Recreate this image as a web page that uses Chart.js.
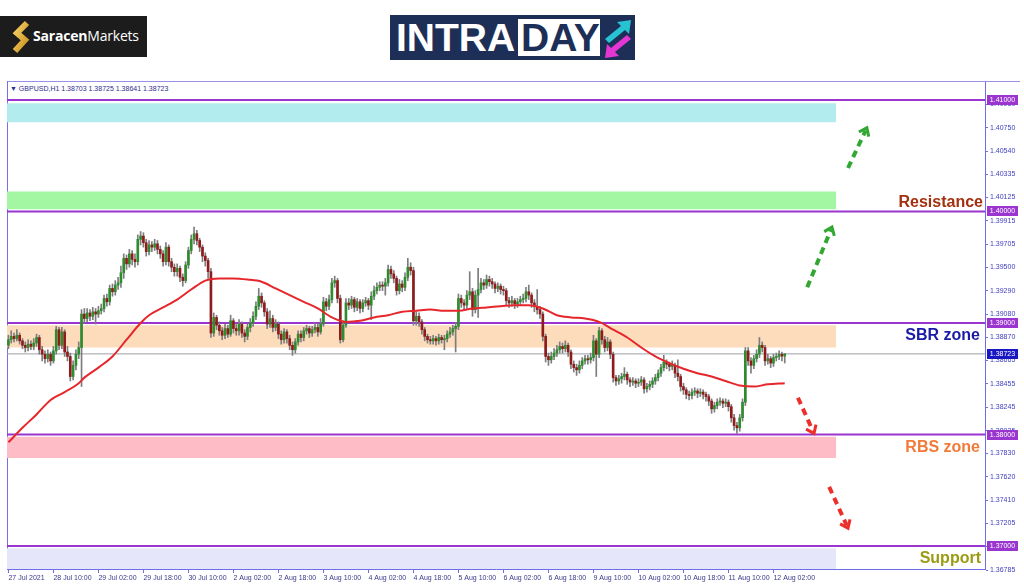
<!DOCTYPE html>
<html><head><meta charset="utf-8">
<script src="https://cdn.jsdelivr.net/npm/chart.js@4.4.0/dist/chart.umd.min.js"></script>
<style>
html,body{margin:0;padding:0;background:#fff;width:1024px;height:587px;overflow:hidden;font-family:"Liberation Sans",Arial,sans-serif;}
#cv{position:absolute;left:0;top:70px;}
.abs{position:absolute;white-space:nowrap;}
#sar{left:0;top:16px;width:147px;height:41px;background:#1c1c1c;}
#sar .t{position:absolute;left:33px;top:12px;font-family:"Open Sans","Liberation Sans",sans-serif;font-size:14px;color:#fff;line-height:16px;letter-spacing:-0.2px;}
#intra{left:390px;top:15px;width:245px;height:45px;background:#1e2f57;}
#intra .a{position:absolute;left:6px;top:2px;font-family:"Liberation Sans",Arial,sans-serif;font-weight:bold;font-size:39px;line-height:42px;color:#fff;}
#intra .b{position:absolute;left:128px;top:4px;width:82px;height:37px;background:#fff;}
#intra .b span{position:absolute;left:3px;top:-2px;font-weight:bold;font-size:39px;line-height:42px;color:#1e2f57;}
#frameL{left:7px;top:81px;width:0;height:488px;border-left:1px solid #7a6fe0;}
#frameT{left:7px;top:81px;width:1013px;height:0;border-top:1px solid #9a8fe8;}
#hdr{left:10px;top:85px;font-size:7px;line-height:8px;color:#2d2d8f;font-family:"Liberation Sans",Arial,sans-serif;}
.lbl{font-weight:bold;font-size:16px;line-height:18px;font-family:"Liberation Sans",Arial,sans-serif;text-align:right;}
</style></head><body>
<div id="sar" class="abs">
  <svg width="30" height="41" style="position:absolute;left:6px;top:0">
    <defs><linearGradient id="g" x1="0" y1="0" x2="1" y2="1"><stop offset="0" stop-color="#f7d26a"/><stop offset="1" stop-color="#c8901c"/></linearGradient></defs>
    <path d="M21 7 L11 17 L19 24 L9 35" fill="none" stroke="url(#g)" stroke-width="6" stroke-linejoin="miter"/>
  </svg>
  <div class="t"><b>Saracen</b>Markets</div>
</div>
<div id="intra" class="abs">
  <div class="a">INTRA</div>
  <div class="b"><span>DAY</span></div>
  <svg width="34" height="45" style="position:absolute;left:211px;top:0">
    <path d="M4 24 L20 11 L16 7 L30 5 L28 19 L24 15 L8 28 Z" fill="#27c3d3"/>
    <path d="M30 24 L14 37 L18 41 L4 43 L6 29 L10 33 L26 20 Z" fill="#e436d3"/>
  </svg>
</div>
<div id="frameT" class="abs"></div>
<div id="frameL" class="abs"></div>
<div id="hdr" class="abs"></div>
<canvas id="cv" width="1024" height="517"></canvas>
<div class="abs lbl" style="right:41px;top:193px;color:#a3300e;">Resistance</div>
<div class="abs lbl" style="right:44px;top:326px;color:#1a1aa8;">SBR zone</div>
<div class="abs lbl" style="right:44px;top:438px;color:#f27a38;">RBS zone</div>
<div class="abs lbl" style="right:43px;top:549px;color:#9b9b12;">Support</div>
<script>
// ---------------- DATA ----------------
const symbolName = "GBPUSD,H1";
const firstOpen = 1.3880;
const closes = [
1.3885,1.3888,1.3886,1.3889,1.3884,1.3880,1.3878,1.3881,1.3879,1.3882,
1.3887,1.3876,1.3872,1.3868,1.3872,1.3866,1.3875,1.3894,1.3880,1.3892,
1.3874,1.3870,1.3852,1.3862,1.3872,1.3878,1.3908,1.3904,1.3909,1.3906,
1.3910,1.3908,1.3911,1.3913,1.3922,1.3919,1.3931,1.3928,1.3934,1.3936,
1.3945,1.3958,1.3953,1.3962,1.3957,1.3955,1.3975,1.3978,1.3972,1.3964,
1.3970,1.3968,1.3971,1.3966,1.3962,1.3955,1.3968,1.3955,1.3950,1.3946,
1.3949,1.3941,1.3938,1.3952,1.3965,1.3975,1.3980,1.3974,1.3968,1.3960,
1.3956,1.3946,1.3891,1.3905,1.3898,1.3893,1.3889,1.3895,1.3890,1.3902,
1.3895,1.3893,1.3899,1.3891,1.3888,1.3896,1.3900,1.3906,1.3915,1.3924,
1.3918,1.3910,1.3899,1.3904,1.3896,1.3899,1.3890,1.3885,1.3892,1.3886,
1.3880,1.3876,1.3883,1.3890,1.3887,1.3893,1.3895,1.3891,1.3894,1.3896,
1.3892,1.3899,1.3919,1.3915,1.3921,1.3936,1.3938,1.3922,1.3885,1.3898,
1.3918,1.3916,1.3921,1.3914,1.3919,1.3913,1.3918,1.3920,1.3916,1.3924,
1.3929,1.3932,1.3934,1.3933,1.3936,1.3948,1.3944,1.3940,1.3929,1.3935,
1.3932,1.3941,1.3950,1.3947,1.3902,1.3906,1.3901,1.3894,1.3888,1.3885,
1.3884,1.3886,1.3884,1.3887,1.3885,1.3886,1.3890,1.3892,1.3895,1.3897,
1.3922,1.3918,1.3916,1.3925,1.3928,1.3912,1.3925,1.3930,1.3936,1.3934,
1.3939,1.3937,1.3935,1.3931,1.3933,1.3930,1.3929,1.3920,1.3918,1.3920,
1.3917,1.3919,1.3921,1.3922,1.3928,1.3925,1.3918,1.3915,1.3912,1.3908,
1.3888,1.3870,1.3867,1.3870,1.3873,1.3876,1.3879,1.3877,1.3880,1.3874,
1.3863,1.3860,1.3858,1.3862,1.3866,1.3868,1.3867,1.3869,1.3884,1.3872,
1.3893,1.3885,1.3878,1.3883,1.3872,1.3851,1.3848,1.3850,1.3852,1.3854,
1.3849,1.3847,1.3848,1.3846,1.3847,1.3849,1.3841,1.3843,1.3845,1.3848,
1.3851,1.3855,1.3860,1.3865,1.3863,1.3861,1.3862,1.3855,1.3852,1.3843,
1.3840,1.3836,1.3835,1.3838,1.3839,1.3837,1.3838,1.3836,1.3834,1.3830,
1.3823,1.3826,1.3829,1.3830,1.3828,1.3829,1.3825,1.3815,1.3808,1.3806,
1.3815,1.3829,1.3875,1.3866,1.3862,1.3868,1.3872,1.3880,1.3878,1.3866,
1.3868,1.3864,1.3869,1.3870,1.3872,1.38703,1.38723];
const highs = [
1.3889,1.3893,1.3891,1.3894,1.3891,1.3886,1.3883,1.3885,1.3884,1.3886,
1.3890,1.3889,1.3879,1.3875,1.3876,1.3874,1.3879,1.3897,1.3896,1.3896,
1.3894,1.3879,1.3873,1.3866,1.3876,1.3883,1.3912,1.3913,1.3913,1.3912,
1.3914,1.3913,1.3915,1.3917,1.3925,1.3926,1.3934,1.3935,1.3938,1.3941,
1.3951,1.3962,1.3961,1.3966,1.3965,1.3962,1.3979,1.3982,1.3981,1.3975,
1.3974,1.3973,1.3975,1.3974,1.3969,1.3965,1.3972,1.3970,1.3958,1.3953,
1.3953,1.3951,1.3944,1.3955,1.3968,1.3979,1.3986,1.3983,1.3976,1.3970,
1.3963,1.3958,1.3949,1.3909,1.3907,1.3901,1.3896,1.3899,1.3898,1.3907,
1.3904,1.3899,1.3903,1.3901,1.3894,1.3899,1.3904,1.3910,1.3919,1.3931,
1.3927,1.3920,1.3913,1.3911,1.3907,1.3903,1.3901,1.3893,1.3895,1.3894,
1.3889,1.3883,1.3886,1.3893,1.3893,1.3896,1.3898,1.3897,1.3897,1.3900,
1.3899,1.3904,1.3923,1.3922,1.3925,1.3940,1.3942,1.3940,1.3925,1.3902,
1.3922,1.3922,1.3924,1.3923,1.3922,1.3921,1.3921,1.3923,1.3922,1.3928,
1.3933,1.3936,1.3937,1.3937,1.3940,1.3952,1.3951,1.3947,1.3942,1.3939,
1.3938,1.3945,1.3958,1.3954,1.3950,1.3910,1.3909,1.3903,1.3896,1.3890,
1.3888,1.3889,1.3888,1.3890,1.3889,1.3889,1.3893,1.3896,1.3898,1.3900,
1.3926,1.3925,1.3921,1.3929,1.3946,1.3931,1.3929,1.3949,1.3940,1.3939,
1.3943,1.3942,1.3940,1.3937,1.3936,1.3935,1.3933,1.3931,1.3923,1.3924,
1.3922,1.3922,1.3924,1.3926,1.3932,1.3934,1.3927,1.3921,1.3930,1.3915,
1.3910,1.3890,1.3873,1.3874,1.3877,1.3880,1.3883,1.3882,1.3884,1.3882,
1.3876,1.3866,1.3863,1.3866,1.3869,1.3871,1.3871,1.3873,1.3889,1.3886,
1.3896,1.3895,1.3888,1.3887,1.3885,1.3874,1.3853,1.3853,1.3855,1.3860,
1.3856,1.3851,1.3851,1.3850,1.3850,1.3852,1.3851,1.3846,1.3848,1.3851,
1.3854,1.3858,1.3863,1.3871,1.3867,1.3865,1.3866,1.3864,1.3867,1.3854,
1.3846,1.3842,1.3839,1.3841,1.3842,1.3841,1.3841,1.3840,1.3838,1.3836,
1.3832,1.3829,1.3832,1.3833,1.3832,1.3832,1.3831,1.3827,1.3818,1.3811,
1.3818,1.3832,1.3878,1.3878,1.3869,1.3871,1.3876,1.3887,1.3883,1.3880,
1.3872,1.3870,1.3872,1.3873,1.3875,1.3874,1.38725];
const lows = [
1.3877,1.3882,1.3883,1.3884,1.3881,1.3877,1.3874,1.3875,1.3876,1.3876,
1.3879,1.3872,1.3866,1.3864,1.3865,1.3862,1.3864,1.3872,1.3876,1.3877,
1.3870,1.3866,1.3848,1.3849,1.3858,1.3868,1.3843,1.3900,1.3901,1.3902,
1.3903,1.3899,1.3905,1.3908,1.3910,1.3915,1.3916,1.3924,1.3925,1.3930,
1.3932,1.3940,1.3948,1.3950,1.3952,1.3950,1.3952,1.3970,1.3968,1.3960,
1.3961,1.3964,1.3965,1.3962,1.3958,1.3951,1.3952,1.3951,1.3946,1.3942,
1.3942,1.3937,1.3933,1.3936,1.3949,1.3962,1.3971,1.3970,1.3964,1.3955,
1.3951,1.3940,1.3887,1.3888,1.3894,1.3889,1.3885,1.3886,1.3887,1.3888,
1.3891,1.3889,1.3889,1.3887,1.3883,1.3885,1.3892,1.3897,1.3903,1.3912,
1.3914,1.3906,1.3895,1.3896,1.3892,1.3893,1.3886,1.3881,1.3882,1.3882,
1.3876,1.3871,1.3873,1.3880,1.3883,1.3884,1.3890,1.3887,1.3888,1.3891,
1.3888,1.3890,1.3897,1.3911,1.3912,1.3918,1.3932,1.3918,1.3882,1.3883,
1.3896,1.3912,1.3913,1.3910,1.3911,1.3909,1.3910,1.3915,1.3912,1.3903,
1.3921,1.3926,1.3929,1.3929,1.3925,1.3933,1.3940,1.3936,1.3925,1.3926,
1.3928,1.3929,1.3938,1.3943,1.3898,1.3898,1.3897,1.3890,1.3884,1.3882,
1.3881,1.3881,1.3880,1.3881,1.3882,1.3876,1.3883,1.3887,1.3889,1.3874,
1.3894,1.3914,1.3912,1.3913,1.3921,1.3906,1.3909,1.3905,1.3927,1.3930,
1.3931,1.3933,1.3931,1.3927,1.3928,1.3926,1.3925,1.3916,1.3914,1.3915,
1.3913,1.3914,1.3916,1.3918,1.3919,1.3921,1.3914,1.3910,1.3908,1.3904,
1.3884,1.3865,1.3862,1.3864,1.3867,1.3870,1.3873,1.3873,1.3874,1.3870,
1.3859,1.3856,1.3853,1.3855,1.3859,1.3863,1.3863,1.3864,1.3866,1.3852,
1.3869,1.3881,1.3874,1.3875,1.3868,1.3847,1.3844,1.3845,1.3846,1.3849,
1.3845,1.3843,1.3844,1.3842,1.3843,1.3844,1.3837,1.3838,1.3840,1.3842,
1.3845,1.3848,1.3852,1.3857,1.3859,1.3857,1.3858,1.3851,1.3848,1.3839,
1.3836,1.3832,1.3831,1.3832,1.3835,1.3833,1.3834,1.3832,1.3830,1.3826,
1.3819,1.3820,1.3823,1.3826,1.3824,1.3825,1.3821,1.3811,1.3804,1.3801,
1.3803,1.3812,1.3826,1.3862,1.3855,1.3859,1.3865,1.3869,1.3874,1.3862,
1.3863,1.3860,1.3861,1.3866,1.3867,1.3866,1.38641];
// moving average read at selected bars
const maBars = [0,5,10,15,20,25,27,32,37,42,47,50,55,60,65,70,75,80,85,90,95,100,105,110,115,120,125,130,135,140,145,150,155,160,165,170,175,180,185,190,195,200,205,210,215,220,225,230,235,240,245,250,255,260,265,270,276];
const maValues = [1.3793,1.3806,1.3818,1.3831,1.3838,1.3846,1.3851,1.3860,1.3870,1.3885,1.3900,1.3907,1.3914,1.3921,1.3930,1.3938,1.3940,1.3940,1.3939,1.3937,1.3931,1.3925,1.3919,1.3913,1.3905,1.3901,1.3902,1.3905,1.3907,1.3910,1.3911,1.3912,1.3911,1.3911,1.3913,1.3914,1.3915,1.3916,1.3916,1.3913,1.3907,1.3905,1.3904,1.3901,1.3894,1.3887,1.3878,1.3870,1.3864,1.3859,1.3855,1.3852,1.3848,1.3844,1.3843,1.3845,1.3846];
// time axis
const xTickBars = [0,16,32,48,64,80,96,112,128,144,160,176,192,208,224,240,256,272];
const xTickLabels = ["27 Jul 2021","28 Jul 10:00","29 Jul 02:00","29 Jul 18:00","30 Jul 10:00","2 Aug 02:00","2 Aug 18:00","3 Aug 10:00","4 Aug 02:00","4 Aug 18:00","5 Aug 10:00","6 Aug 02:00","6 Aug 18:00","9 Aug 10:00","10 Aug 02:00","10 Aug 18:00","11 Aug 10:00","12 Aug 02:00"];
// price axis
const yTickValues = [1.40960,1.40750,1.40540,1.40335,1.40125,1.39915,1.39705,1.39500,1.39290,1.39080,1.38870,1.38665,1.38455,1.38245,1.38035,1.37830,1.37620,1.37410,1.37205,1.36995,1.36785];
const levelValues = [1.41,1.40,1.39,1.38,1.37];
const lastPrice = 1.38723;
const zoneTops =    [1.4097,1.4018,1.3898,1.3798,1.3698];
const zoneBottoms = [1.4080,1.4002,1.3878,1.3779,null];
// arrows: [fromBar, fromPrice, toBar, toPrice]
const upArrows = [[284.0,1.3932,292.8,1.3986],[298.5,1.4039,305.2,1.4075]];
const downArrows = [[280.7,1.3833,286.4,1.3801],[291.8,1.3753,298.5,1.3716]];

// ---------------- LAYOUT / STYLE ----------------
const X_MIN = -0.5, X_MAX = 347.2, Y_MIN = 1.36794, Y_MAX = 1.41161, ZONE_END = 294.3;
const zoneColors = ['#b3ecef','#a3f7a3','#fddcbc','#fdbcc6','#e6e6fa'];
const LEVEL_COLOR = '#9a35cf';
const AXIS_COLOR = '#6e6ee6';

document.getElementById('hdr').textContent = '\u25BC ' + symbolName + '  ' +
  [closes[275], highs[276], lows[276], closes[276]].map(v => v.toFixed(5)).join(' ');

const opens = closes.map((c, i) => i === 0 ? firstOpen : closes[i - 1]);
const bodyData = closes.map((c, i) => ({x: i, y: [opens[i], c]}));
const wickData = closes.map((c, i) => ({x: i, y: [lows[i], highs[i]]}));
const maData = maBars.map((b, i) => ({x: b, y: maValues[i]}));

const datasets = [];
zoneTops.forEach((t, k) => {
  datasets.push({type:'line', data:[{x:X_MIN,y:t},{x:ZONE_END,y:t}], borderWidth:0, pointRadius:0,
    backgroundColor: zoneColors[k], fill: zoneBottoms[k] === null ? 'start' : {value: zoneBottoms[k]}, order: 20});
});
levelValues.forEach(v => {
  datasets.push({type:'line', data:[{x:X_MIN,y:v},{x:X_MAX,y:v}], borderColor: LEVEL_COLOR, borderWidth:2, pointRadius:0, fill:false, order: 15});
});
datasets.push({type:'line', data:[{x:X_MIN,y:lastPrice},{x:X_MAX,y:lastPrice}], borderColor:'#9aa0a6', borderWidth:1, pointRadius:0, fill:false, order: 14});
datasets.push({type:'bar', data: wickData, backgroundColor:'#7d7d7d', barThickness:1, grouped:false, order: 3});
datasets.push({type:'bar', data: bodyData, grouped:false, barThickness:2, minBarLength:1, order: 2,
  backgroundColor: ctx => { const d = bodyData[ctx.dataIndex]; return d && d.y[1] >= d.y[0] ? '#2e8b2e' : '#8e1c1c'; }});
datasets.push({type:'line', data: maData, borderColor:'#e6262b', borderWidth:2, pointRadius:0, fill:false, cubicInterpolationMode:'monotone', order: 1});

function drawArrow(ctx, x1, y1, x2, y2, color) {
  const ang = Math.atan2(y2 - y1, x2 - x1);
  ctx.save();
  ctx.strokeStyle = color; ctx.lineWidth = 4; ctx.setLineDash([7, 5]);
  ctx.beginPath(); ctx.moveTo(x1, y1); ctx.lineTo(x2 - Math.cos(ang) * 3, y2 - Math.sin(ang) * 3); ctx.stroke();
  ctx.setLineDash([]); ctx.lineWidth = 3; ctx.lineJoin = 'miter';
  const h = 9;
  ctx.beginPath();
  ctx.moveTo(x2 - h * Math.cos(ang - 0.65), y2 - h * Math.sin(ang - 0.65));
  ctx.lineTo(x2, y2);
  ctx.lineTo(x2 - h * Math.cos(ang + 0.65), y2 - h * Math.sin(ang + 0.65));
  ctx.stroke();
  ctx.restore();
}
function badge(ctx, y, text, bg) {
  ctx.save();
  ctx.fillStyle = bg; ctx.fillRect(987, Math.round(y) - 5, 31, 10);
  ctx.fillStyle = '#ffffff'; ctx.font = '7px "Liberation Sans", Arial, sans-serif';
  ctx.textAlign = 'center'; ctx.textBaseline = 'middle';
  ctx.fillText(text, 1002.5, Math.round(y) + 0.5);
  ctx.restore();
}
const overlay = {
  id: 'overlay',
  afterDatasetsDraw(chart) {
    const xs = chart.scales.x, ys = chart.scales.y, ctx = chart.ctx;
    upArrows.forEach(a => drawArrow(ctx, xs.getPixelForValue(a[0]), ys.getPixelForValue(a[1]), xs.getPixelForValue(a[2]), ys.getPixelForValue(a[3]), '#32a832'));
    downArrows.forEach(a => drawArrow(ctx, xs.getPixelForValue(a[0]), ys.getPixelForValue(a[1]), xs.getPixelForValue(a[2]), ys.getPixelForValue(a[3]), '#ec2f2a'));
  },
  afterDraw(chart) {
    const ys = chart.scales.y, ctx = chart.ctx;
    levelValues.forEach(v => badge(ctx, ys.getPixelForValue(v), v.toFixed(5), LEVEL_COLOR));
    badge(ctx, ys.getPixelForValue(lastPrice), lastPrice.toFixed(5), '#1717c4');
  }
};

new Chart(document.getElementById('cv'), {
  type: 'bar',
  data: { datasets },
  options: {
    responsive: false, animation: false, events: [],
    layout: { padding: { left: 7, top: 12, right: 0, bottom: 0 } },
    plugins: { legend: { display: false }, tooltip: { enabled: false } },
    scales: {
      x: { type: 'linear', min: X_MIN, max: X_MAX, offset: false,
        grid: { display: true, drawOnChartArea: false, drawTicks: true, tickLength: 4, color: AXIS_COLOR, offset: false },
        border: { display: true, color: AXIS_COLOR, width: 1 },
        afterBuildTicks: s => { s.ticks = xTickBars.map(v => ({ value: v })); },
        afterFit: s => { s.height = 18; },
        ticks: { autoSkip: false, maxRotation: 0, align: 'start', padding: 1, color: '#3a3a8c',
          font: { family: '"Liberation Sans", Arial, sans-serif', size: 7 },
          callback: (v) => { const k = xTickBars.indexOf(v); return k >= 0 ? xTickLabels[k] : ''; } }
      },
      y: { type: 'linear', position: 'right', min: Y_MIN, max: Y_MAX, beginAtZero: false,
        grid: { display: true, drawOnChartArea: false, drawTicks: true, tickLength: 3, color: AXIS_COLOR },
        border: { display: true, color: AXIS_COLOR, width: 1 },
        afterBuildTicks: s => { s.ticks = yTickValues.map(v => ({ value: v })); },
        afterFit: s => { s.width = 39; },
        ticks: { autoSkip: false, padding: 2, color: '#4040c0',
          font: { family: '"Liberation Sans", Arial, sans-serif', size: 7 },
          callback: v => Number(v).toFixed(5) }
      }
    }
  },
  plugins: [overlay]
});
</script>
</body></html>
